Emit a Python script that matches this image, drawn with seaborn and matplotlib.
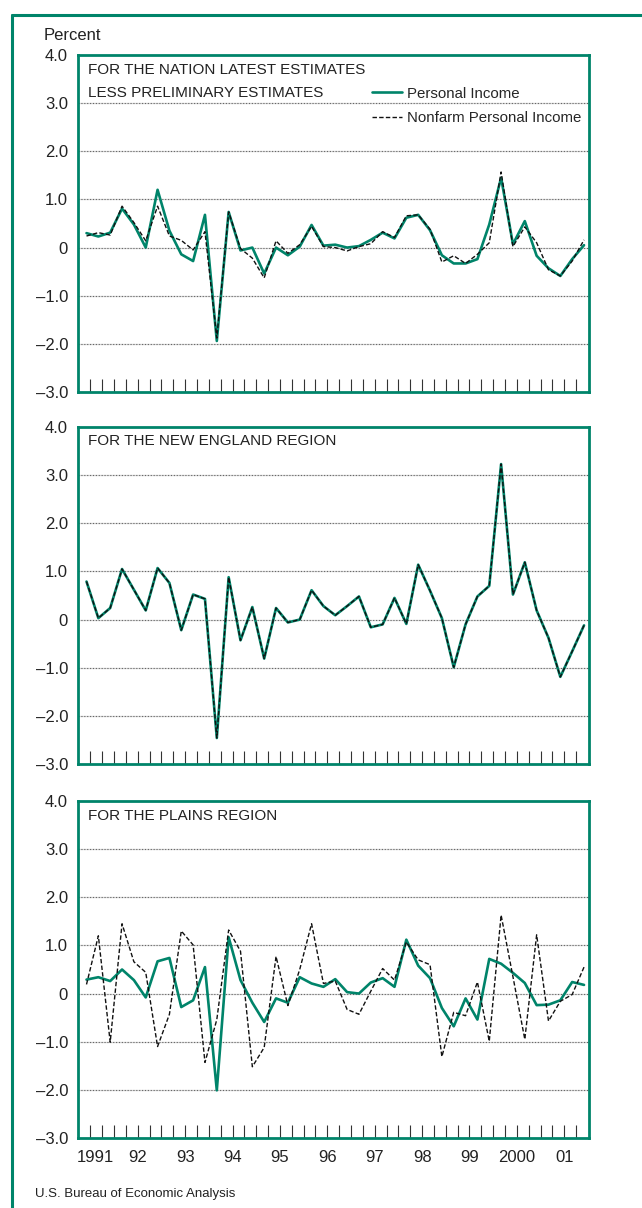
"""
Personal income revisions: latest estimates less preliminary estimates,
for the nation, New England and the Plains region (quarterly, 1991-2001).
"""

import matplotlib
matplotlib.use("Agg")
import matplotlib.pyplot as plt
from matplotlib.lines import Line2D
import numpy as np
import pandas as pd
import seaborn as sns

# --- data (percent), quarters 1991:II - 2001:IV ---------------------------
quarters = [f"{y}Q{q}" for y in range(1991, 2002) for q in range(1, 5)][1:]

nation_personal = [0.30, 0.23, 0.31, 0.81, 0.48, 0.00, 1.20, 0.35, -0.14, -0.28,
                   0.68, -1.94, 0.74, -0.06, 0.00, -0.54, 0.00, -0.16, 0.02, 0.47,
                   0.04, 0.06, 0.00, 0.03, 0.16, 0.31, 0.19, 0.62, 0.68, 0.36,
                   -0.16, -0.33, -0.33, -0.24, 0.48, 1.45, 0.07, 0.55, -0.17, -0.43,
                   -0.59, -0.24, 0.05]
nation_nonfarm = [0.24, 0.31, 0.26, 0.86, 0.52, 0.14, 0.86, 0.24, 0.15, -0.05,
                  0.33, -1.88, 0.74, -0.02, -0.22, -0.63, 0.14, -0.12, 0.06, 0.44,
                  0.02, 0.00, -0.07, 0.02, 0.08, 0.33, 0.21, 0.66, 0.68, 0.38,
                  -0.30, -0.17, -0.33, -0.14, 0.10, 1.57, 0.02, 0.43, 0.10, -0.46,
                  -0.59, -0.28, 0.16]

# in New England both series coincide on the chart
ne_personal = [0.79, 0.03, 0.24, 1.05, 0.62, 0.19, 1.07, 0.76, -0.22, 0.52,
               0.43, -2.46, 0.88, -0.43, 0.26, -0.81, 0.24, -0.06, 0.00, 0.61,
               0.28, 0.09, 0.28, 0.48, -0.16, -0.10, 0.45, -0.09, 1.14, 0.60,
               0.03, -0.99, -0.10, 0.48, 0.70, 3.23, 0.52, 1.19, 0.19, -0.38,
               -1.19, -0.66, -0.12]
ne_nonfarm = list(ne_personal)

plains_personal = [0.29, 0.34, 0.26, 0.50, 0.28, -0.08, 0.67, 0.74, -0.28, -0.14,
                   0.55, -2.01, 1.17, 0.28, -0.19, -0.59, -0.10, -0.19, 0.34, 0.21,
                   0.14, 0.30, 0.03, 0.00, 0.23, 0.32, 0.14, 1.12, 0.58, 0.32,
                   -0.30, -0.68, -0.10, -0.54, 0.72, 0.62, 0.43, 0.22, -0.24, -0.23,
                   -0.14, 0.24, 0.18]
plains_nonfarm = [0.19, 1.20, -1.01, 1.45, 0.66, 0.44, -1.10, -0.43, 1.30, 1.01,
                  -1.43, -0.54, 1.32, 0.88, -1.52, -1.12, 0.77, -0.25, 0.50, 1.45,
                  0.21, 0.26, -0.33, -0.43, 0.05, 0.52, 0.28, 1.07, 0.70, 0.60,
                  -1.31, -0.39, -0.46, 0.24, -0.99, 1.63, 0.35, -0.95, 1.22, -0.57,
                  -0.16, -0.02, 0.55]

year_labels = ["1991", "92", "93", "94", "95", "96", "97", "98", "99", "2000", "01"]
y_ticks = [4, 3, 2, 1, 0, -1, -2, -3]
y_tick_labels = ["4.0", "3.0", "2.0", "1.0", "0", "\u20131.0", "\u20132.0", "\u20133.0"]

panels = [
    (["FOR THE NATION LATEST ESTIMATES", "LESS PRELIMINARY ESTIMATES"],
     nation_personal, nation_nonfarm),
    (["FOR THE NEW ENGLAND REGION"], ne_personal, ne_nonfarm),
    (["FOR THE PLAINS REGION"], plains_personal, plains_nonfarm),
]

GREEN = "#00846a"

sns.set_theme(style="white")
plt.rcParams["font.family"] = ["Liberation Sans", "DejaVu Sans"]

W, H = 642, 1208
fig = plt.figure(figsize=(W / 100, H / 100), dpi=100)

# outer frame (top and left edges only)
fig.add_artist(Line2D([12 / W, 1.0], [1 - 15 / H, 1 - 15 / H], color=GREEN, lw=2.2))
fig.add_artist(Line2D([12 / W, 12 / W], [1 - 15 / H, 0.0], color=GREEN, lw=2.2))

fig.text(44 / W, 1 - 35 / H, "Percent", fontsize=12, va="center", ha="left",
         color="#222222")
fig.text(35 / W, 1 - 1194 / H, "U.S. Bureau of Economic Analysis", fontsize=9.5,
         va="center", ha="left", color="#222222")

n = len(quarters)
xpos = np.arange(n)
tick_pos = xpos[:-1] + 0.33                       # quarter tick marks
year_bounds = [quarters.index(f"{y}Q1") - 0.67 for y in range(1992, 2002)]
x_left, x_right = -0.76, n - 1 + 0.42
label_pos = []
edges = [x_left] + year_bounds + [n - 1 + 0.33]
for a, b in zip(edges[:-1], edges[1:]):
    label_pos.append((a + b) / 2)

left, width = 77.5 / W, 511.5 / W
tops = [55, 427, 801]
ph = 337

for k, (title, pi, nf) in enumerate(panels):
    ax = fig.add_axes([left, 1 - (tops[k] + ph) / H, width, ph / H])
    df = pd.DataFrame({"x": xpos, "Personal Income": pi,
                       "Nonfarm Personal Income": nf})

    for yv in [3, 2, 1, 0, -1, -2]:
        ax.axhline(yv, color="#d4d4d4", lw=0.9, zorder=0.5)
        ax.axhline(yv, color="#666666", lw=0.8, ls=(0, (1, 1.6)), zorder=0.6)

    sns.lineplot(data=df, x="x", y="Personal Income", ax=ax, color=GREEN,
                 lw=1.9, errorbar=None, zorder=3, label="Personal Income")
    sns.lineplot(data=df, x="x", y="Nonfarm Personal Income", ax=ax,
                 color="#111111", lw=1.0, ls=(0, (3.2, 1.6)), errorbar=None,
                 zorder=4, label="Nonfarm Personal Income")

    ax.set_xlim(x_left, x_right)
    ax.set_ylim(-3, 4)
    ax.set_xlabel("")
    ax.set_ylabel("")

    ax.set_yticks(y_ticks)
    ax.set_yticklabels(y_tick_labels)
    ax.tick_params(axis="y", length=0, pad=6.8, labelsize=12, labelcolor="#222222")

    ax.set_xticks(year_bounds)
    ax.set_xticks(tick_pos, minor=True)
    ax.xaxis.remove_overlapping_locs = False
    ax.set_xticklabels([])
    ax.tick_params(axis="x", which="major", direction="in", length=16.5,
                   width=0.8, color="#333333")
    ax.tick_params(axis="x", which="minor", direction="in", length=9.3,
                   width=0.8, color="#333333", bottom=True)

    for s in ax.spines.values():
        s.set_color(GREEN)
        s.set_linewidth(2.0)
        s.set_zorder(5)

    for j, line in enumerate(title):
        ax.text(10.5 / 511.5, 1 - (14.5 + 23.5 * j) / ph, line,
                transform=ax.transAxes, fontsize=11, va="center", ha="left",
                color="#222222")

    if k == 0:
        ax.legend(loc="upper left", bbox_to_anchor=((371.7 - 77.5) / 511.5, 0.906),
                  frameon=False, fontsize=10.8, handlelength=2.0,
                  handletextpad=0.35, labelspacing=0.72, borderaxespad=0,
                  borderpad=0)
    else:
        ax.get_legend().remove()

    if k == 2:
        for pos, lab in zip(label_pos, year_labels):
            ax.annotate(lab, xy=(pos, 0), xycoords=("data", "axes fraction"),
                        xytext=(0, -9), textcoords="offset points",
                        ha="center", va="top", fontsize=12, color="#222222")

fig.savefig("out.png", dpi=100)
